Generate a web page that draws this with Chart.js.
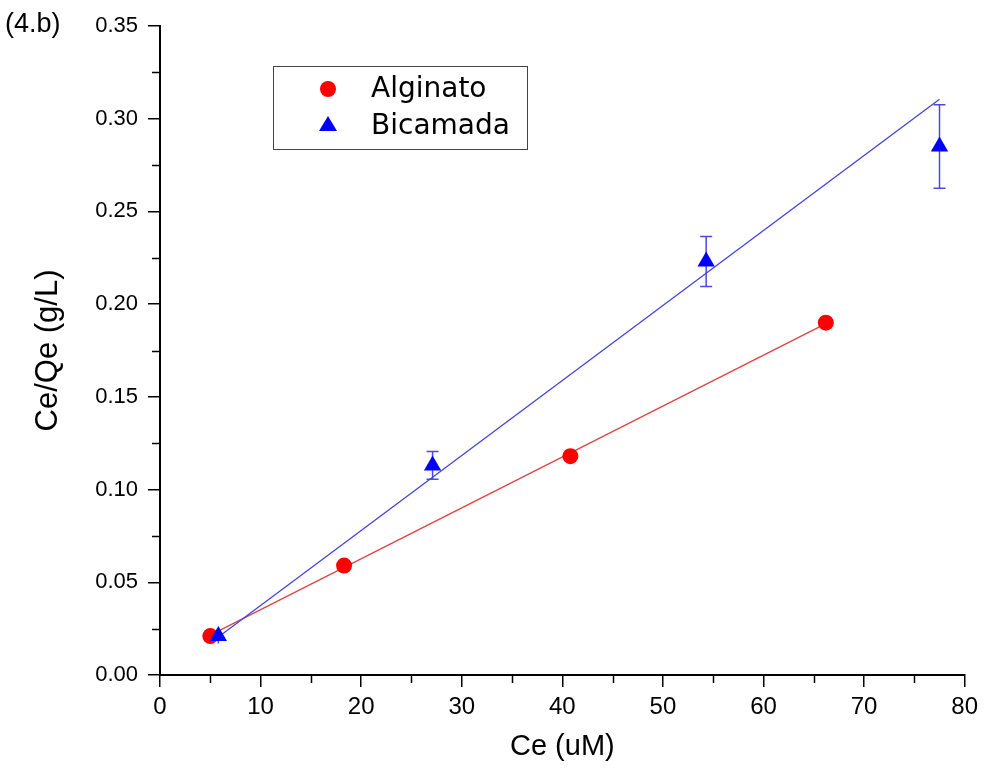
<!DOCTYPE html>
<html>
<head>
<meta charset="utf-8">
<script src="https://cdn.jsdelivr.net/npm/chart.js@4.4.1/dist/chart.umd.min.js"></script>
<style>
  html, body { margin: 0; padding: 0; background: #fff; }
  #wrap { width: 984px; height: 776px; }
</style>
</head>
<body>
<div id="wrap"><canvas id="chart" width="984" height="776"></canvas></div>
<script>
// Alginato points
const alginatoCe = [5.0, 18.3, 40.8, 66.2];
const alginatoCeQe = [0.021, 0.059, 0.118, 0.190];
// Bicamada points + error bars
const bicamadaCe = [5.8, 27.1, 54.3, 77.5];
const bicamadaCeQe = [0.021, 0.113, 0.223, 0.285];
const bicamadaErr = [0.004, 0.0075, 0.0135, 0.0225];
// linear fits (end points)
const alginatoFitCe = [5.0, 66.2];
const alginatoFitCeQe = [0.0215, 0.1895];
const bicamadaFitCe = [5.8, 77.5];
const bicamadaFitCeQe = [0.0205, 0.3105];
// minor ticks
const xMinor = [5, 15, 25, 35, 45, 55, 65, 75];
const yMinor = [0.025, 0.075, 0.125, 0.175, 0.225, 0.275, 0.325];

const legendItems = ['Alginato', 'Bicamada'];

const toPts = (xs, ys) => xs.map((x, i) => ({ x: x, y: ys[i] }));

const errorBars = {
  id: 'errorBars',
  beforeDatasetsDraw(chart) {
    const ctx = chart.ctx;
    const xs = chart.scales.x, ys = chart.scales.y;
    ctx.save();
    ctx.strokeStyle = '#4a4ae0';
    ctx.lineWidth = 1.5;
    bicamadaCe.forEach((x, i) => {
      const px = xs.getPixelForValue(x);
      const top = ys.getPixelForValue(bicamadaCeQe[i] + bicamadaErr[i]);
      const bot = ys.getPixelForValue(bicamadaCeQe[i] - bicamadaErr[i]);
      ctx.beginPath();
      ctx.moveTo(px, top); ctx.lineTo(px, bot);
      if (i > 0) {
        ctx.moveTo(px - 6, top); ctx.lineTo(px + 6, top);
        ctx.moveTo(px - 6, bot); ctx.lineTo(px + 6, bot);
      }
      ctx.stroke();
    });
    ctx.restore();
  }
};

const extras = {
  id: 'extras',
  afterDraw(chart) {
    const ctx = chart.ctx;
    const xs = chart.scales.x, ys = chart.scales.y;
    const area = chart.chartArea;
    ctx.save();
    // minor ticks
    ctx.strokeStyle = '#000';
    ctx.lineWidth = 1.5;
    ctx.beginPath();
    xMinor.forEach(v => {
      const px = Math.round(xs.getPixelForValue(v)) + 0.5;
      ctx.moveTo(px, area.bottom); ctx.lineTo(px, area.bottom + 8);
    });
    yMinor.forEach(v => {
      const py = Math.round(ys.getPixelForValue(v)) + 0.5;
      ctx.moveTo(area.left, py); ctx.lineTo(area.left - 8, py);
    });
    ctx.stroke();

    // panel label
    ctx.fillStyle = '#000';
    ctx.font = '27px "Liberation Sans", Arial, sans-serif';
    ctx.textBaseline = 'middle';
    ctx.textAlign = 'left';
    ctx.fillText('(4.b)', 5, 25);

    // legend box
    ctx.fillStyle = '#fff';
    ctx.fillRect(273, 66, 254, 83);
    ctx.strokeStyle = '#444';
    ctx.lineWidth = 1;
    ctx.strokeRect(273.5, 66.5, 254, 83);
    ctx.fillStyle = '#ff0000';
    ctx.beginPath();
    ctx.arc(328, 89, 8, 0, Math.PI * 2);
    ctx.fill();
    ctx.fillStyle = '#0000ff';
    ctx.beginPath();
    ctx.moveTo(328, 116);
    ctx.lineTo(337, 131);
    ctx.lineTo(319, 131);
    ctx.closePath();
    ctx.fill();
    ctx.fillStyle = '#000';
    ctx.font = '28px "DejaVu Sans", sans-serif';
    ctx.fillText(legendItems[0], 371, 90);
    ctx.fillText(legendItems[1], 371, 127);
    ctx.restore();
  }
};

new Chart(document.getElementById('chart'), {
  type: 'scatter',
  data: {
    datasets: [
      {
        label: 'Alginato fit',
        type: 'line',
        order: 4,
        data: toPts(alginatoFitCe, alginatoFitCeQe),
        borderColor: '#dd4444',
        borderWidth: 1.3,
        pointRadius: 0,
        fill: false
      },
      {
        label: 'Bicamada fit',
        type: 'line',
        order: 3,
        data: toPts(bicamadaFitCe, bicamadaFitCeQe),
        borderColor: '#4444dd',
        borderWidth: 1.3,
        pointRadius: 0,
        fill: false
      },
      {
        label: 'Alginato',
        order: 2,
        data: toPts(alginatoCe, alginatoCeQe),
        pointStyle: 'circle',
        pointRadius: 8,
        pointBackgroundColor: '#ff0000',
        pointBorderColor: '#ff0000',
        pointBorderWidth: 0
      },
      {
        label: 'Bicamada',
        order: 1,
        data: toPts(bicamadaCe, bicamadaCeQe),
        pointStyle: 'triangle',
        pointRadius: 10,
        pointBackgroundColor: '#0000ff',
        pointBorderColor: '#0000ff',
        pointBorderWidth: 0
      }
    ]
  },
  options: {
    responsive: false,
    animation: false,
    layout: { padding: { left: 30, top: 26, right: 18, bottom: 12 } },
    plugins: {
      legend: { display: false },
      tooltip: { enabled: false }
    },
    scales: {
      x: {
        type: 'linear',
        min: 0,
        max: 80,
        afterFit: s => { s.height = 89; },
        ticks: {
          stepSize: 10,
          color: '#000',
          padding: 6,
          font: { family: '"Liberation Sans", Arial, sans-serif', size: 24 }
        },
        grid: { drawOnChartArea: false, drawTicks: true, tickLength: 12, color: '#000', lineWidth: 1.5 },
        border: { color: '#000', width: 2 },
        title: {
          display: true,
          text: 'Ce (uM)',
          color: '#000',
          padding: 0,
          font: { family: '"Liberation Sans", Arial, sans-serif', size: 29 }
        }
      },
      y: {
        type: 'linear',
        min: 0,
        max: 0.35,
        afterFit: s => { s.width = 130; },
        ticks: {
          stepSize: 0.05,
          color: '#000',
          padding: 10,
          callback: v => v.toFixed(2),
          font: { family: '"Liberation Sans", Arial, sans-serif', size: 22 }
        },
        grid: { drawOnChartArea: false, drawTicks: true, tickLength: 12, color: '#000', lineWidth: 1.5 },
        border: { color: '#000', width: 2 },
        title: {
          display: true,
          text: 'Ce/Qe (g/L)',
          color: '#000',
          padding: 0,
          font: { family: '"Liberation Sans", Arial, sans-serif', size: 31 }
        }
      }
    }
  },
  plugins: [errorBars, extras]
});
</script>
</body>
</html>
